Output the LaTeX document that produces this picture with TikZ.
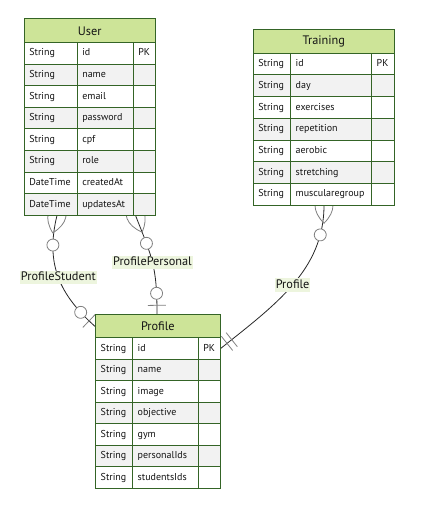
\documentclass[tikz,border=0pt]{standalone}
\usepackage{fontspec}
\setmainfont{PT Sans}
\usetikzlibrary{calc,decorations.markings}

\definecolor{erborder}{RGB}{52,100,38}
\definecolor{erhead}{RGB}{205,228,152}
\definecolor{errow}{RGB}{242,242,242}
\definecolor{erlabel}{RGB}{237,245,222}
\definecolor{erline}{RGB}{40,40,40}
\definecolor{ermark}{RGB}{128,128,128}
\definecolor{ertext}{RGB}{20,20,20}

\pgfdeclarelayer{background}
\pgfsetlayers{background,main}

\def\headh{23.6}

\tikzset{
  cellbox/.style={draw=erborder, line width=1pt, anchor=north west, outer sep=0pt,
    inner xsep=5pt, inner ysep=0pt, align=left, text=ertext,
    font=\fontsize{10}{12}\selectfont, text height=7.5pt, text depth=2.5pt},
  headbox/.style={draw=erborder, fill=erhead, line width=1pt, anchor=north west,
    outer sep=0pt, inner sep=0pt, text=ertext, font=\fontsize{12.3}{14}\selectfont},
  framebox/.style={draw=erborder, line width=1pt, anchor=north west, outer sep=0pt, inner sep=0pt},
  markline/.style={draw=ermark, line width=0.8pt},
  rel/.style={draw=erline, line width=0.8pt, postaction={decorate}},
  rellabel/.style={fill=erlabel, inner xsep=0.8pt, inner ysep=1pt, text=ertext,
    font=\fontsize{12.3}{14}\selectfont, text height=8.8pt, text depth=2.6pt},
  manyzero start/.style={decoration={markings,
    mark=at position 0.01pt with {\draw[markline] (-18,0) .. controls (-6,12) and (6,12) .. (18,0)
       .. controls (6,-12) and (-6,-12) .. (-18,0);},
    mark=at position 30pt with {\draw[markline, fill=white] (0,0) circle[radius=6pt];}}},
  zeroone end/.style={decoration={markings,
    mark=at position -21pt with {\draw[markline, fill=white] (0,0) circle[radius=6pt];},
    mark=at position -9pt with {\draw[markline] (0,-9) -- (0,9);}}},
  onlyone end/.style={decoration={markings,
    mark=at position -15pt with {\draw[markline] (0,-9) -- (0,9);},
    mark=at position -9pt with {\draw[markline] (0,-9) -- (0,9);}}},
}

% \entity{name}{x,y}{type width}{name width}{key width}{row height}{title}{type/name/key,...}
\newcommand\entity[8]{%
  \pgfmathsetmacro\eW{#3+#4+#5}%
  \pgfmathsetmacro\eTa{#3-10}\pgfmathsetmacro\eTb{#4-10}\pgfmathsetmacro\eTc{#5-10}%
  \coordinate (#1-o) at (#2);
  \node[headbox, minimum width=\eW pt, minimum height=\headh pt] (#1-head) at (#1-o) {#7};
  \foreach [count=\i] \eTy/\eNm/\eKy in {#8} {
    \ifodd\i \def\rowfill{white}\else \def\rowfill{errow}\fi
    \node[cellbox, fill=\rowfill, text width=\eTa pt, minimum height=#6pt] (#1-\i-t)
      at ($(#1-o)+(0,{\headh+(\i-1)*#6})$) {\mbox{\eTy}};
    \node[cellbox, fill=\rowfill, text width=\eTb pt, minimum height=#6pt] (#1-\i-a)
      at (#1-\i-t.north east) {\mbox{\eNm}};
    \node[cellbox, fill=\rowfill, text width=\eTc pt, minimum height=#6pt] (#1-\i-k)
      at (#1-\i-a.north east) {\mbox{\eKy}};
    \xdef\erN{\i}
  }
  \pgfmathsetmacro\eH{\headh+\erN*#6}%
  \node[framebox, minimum width=\eW pt, minimum height=\eH pt] (#1) at (#1-o) {};
}

\begin{document}
\begin{tikzpicture}[x=1pt, y=-1pt]
  \useasboundingbox (0,0) rectangle (422,518);

  \entity{user}{24.3,19}{53}{56}{21.7}{21.6}{User}{String/id/PK, String/name/, String/email/,
    String/password/, String/cpf/, String/role/, DateTime/createdAt/, DateTime/updatesAt/}
  \entity{training}{253.3,29.7}{37.4}{81}{22.6}{21.7}{Training}{String/id/PK, String/day/,
    String/exercises/, String/repetition/, String/aerobic/, String/stretching/, String/muscularegroup/}
  \entity{profile}{95.7,314.3}{37}{65.6}{21.7}{21.5}{Profile}{String/id/PK, String/name/,
    String/image/, String/objective/, String/gym/, String/personalIds/, String/studentsIds/}

  \begin{pgfonlayer}{background}
    \fill[white] (0,0) rectangle (422,518);
    \draw[rel, manyzero start, zeroone end] ($(user.south west)+(32.7,0)$)
      .. controls +(-12,49) and +(-36,-32) .. ($(profile.north west)+(0,12.7)$)
      node[rellabel, pos=0.5] (lab-student) {ProfileStudent};
    \draw[rel, manyzero start, zeroone end] ($(user.south west)+(111.2,0)$)
      .. controls +(16.5,42) and +(0,-49) .. ($(profile.north west)+(61.3,0)$)
      node[rellabel, pos=0.5] (lab-personal) {ProfilePersonal};
    \draw[rel, manyzero start, onlyone end] ($(training.south west)+(70.7,0)$)
      .. controls +(0,65) and +(55,-44) .. ($(profile.north east)+(0,34.7)$)
      node[rellabel, pos=0.5] (lab-profile) {Profile};
  \end{pgfonlayer}
\end{tikzpicture}
\end{document}
